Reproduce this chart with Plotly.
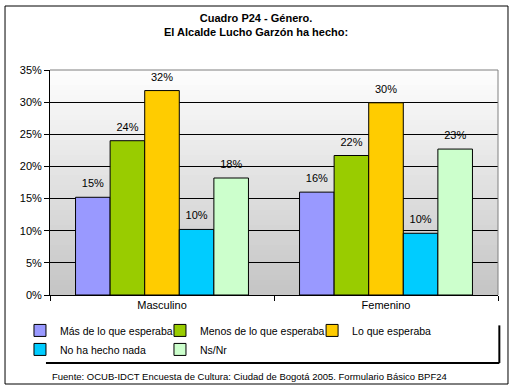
import plotly.graph_objects as go

categories = ["Masculino", "Femenino"]
series_names = ["Más de lo que esperaba", "Menos de lo que esperaba", "Lo que esperaba",
                "No ha hecho nada", "Ns/Nr"]
mas_de_lo_que_esperaba = [0.152, 0.160]
menos_de_lo_que_esperaba = [0.240, 0.217]
lo_que_esperaba = [0.318, 0.299]
no_ha_hecho_nada = [0.102, 0.096]
ns_nr = [0.182, 0.227]
series_values = [mas_de_lo_que_esperaba, menos_de_lo_que_esperaba, lo_que_esperaba,
                 no_ha_hecho_nada, ns_nr]
colors = ["#9999FF", "#99CC00", "#FFCC00", "#00CCFF", "#CCFFCC"]
legend_ids = ["legend", "legend2", "legend3", "legend", "legend2"]

FONT = "Liberation Sans, Arial, sans-serif"

fig = go.Figure()
for name, vals, col, lg in zip(series_names, series_values, colors, legend_ids):
    fig.add_trace(go.Bar(
        x=categories, y=vals, name=name, legend=lg,
        marker=dict(color=col, line=dict(color="black", width=1)),
        hoverinfo="skip",
    ))
for name, vals in zip(series_names, series_values):
    fig.add_trace(go.Scatter(
        x=categories, y=vals, mode="markers+text", showlegend=False,
        marker=dict(size=10, opacity=0),
        text=[f"{v*100:.0f}%" for v in vals], textposition="top center",
        textfont=dict(family=FONT, size=11, color="black"),
        hoverinfo="skip", cliponaxis=False,
    ))

# gradient background bands
shapes = []
n = 45
for i in range(n):
    t = i / n
    g = int(round(196 + (254 - 196) * (i + 0.5) / n))
    shapes.append(dict(type="rect", xref="paper", yref="paper",
                       x0=0, x1=1, y0=t, y1=(i + 1) / n + 0.002,
                       fillcolor=f"rgb({g},{g},{g})", line=dict(width=0), layer="below"))
# plot top/right gray border
shapes.append(dict(type="line", xref="paper", yref="paper", x0=0, x1=1, y0=1, y1=1,
                   line=dict(color="#808080", width=1), layer="above"))
shapes.append(dict(type="line", xref="paper", yref="paper", x0=1, x1=1, y0=0, y1=1,
                   line=dict(color="#808080", width=1), layer="above"))
# legend shadow
shapes.append(dict(type="line", xref="paper", yref="paper", x0=-0.009, x1=1.003,
                   y0=-0.302, y1=-0.302, line=dict(color="black", width=2), layer="above"))
shapes.append(dict(type="line", xref="paper", yref="paper", x0=1.003, x1=1.003,
                   y0=-0.135, y1=-0.302, line=dict(color="black", width=2), layer="above"))
# outer border
shapes.append(dict(type="rect", xref="paper", yref="paper", x0=-0.1004, x1=1.0223,
                   y0=-0.3956, y1=1.2844, line=dict(color="black", width=1), layer="above"))

legend_common = dict(orientation="v", yanchor="top", y=-0.093, xanchor="left",
                     bgcolor="rgba(0,0,0,0)", font=dict(family=FONT, size=10.5),
                     tracegroupgap=0)

fig.update_layout(
    width=515, height=391,
    margin=dict(l=50, r=17, t=70, b=96, autoexpand=False),
    paper_bgcolor="white", plot_bgcolor="white",
    barmode="group", bargap=0.228, bargroupgap=0,
    scattermode="group",
    font=dict(family=FONT, size=11, color="black"),
    xaxis=dict(showline=True, linecolor="black", linewidth=1, ticks="outside",
               ticklen=5, tickcolor="black", tickson="boundaries", showgrid=False,
               tickfont=dict(size=11), automargin=False),
    yaxis=dict(range=[0, 0.35], dtick=0.05, tickformat=".0%", showline=True,
               linecolor="black", linewidth=1, ticks="outside", ticklen=5,
               tickcolor="black", showgrid=True, gridcolor="black", gridwidth=1,
               zeroline=False, tickfont=dict(size=11), automargin=False),
    legend=dict(x=-0.067, **legend_common),
    legend2=dict(x=0.2455, **legend_common),
    legend3=dict(x=0.585, **legend_common),
    shapes=shapes,
    annotations=[
        dict(text="<b>Cuadro P24 - Género.</b><br><b>El Alcalde Lucho Garzón ha hecho:</b>",
             xref="paper", yref="paper", x=0.4609, y=1.2667, xanchor="center",
             yanchor="top", showarrow=False, align="center",
             font=dict(family=FONT, size=11, color="black")),
        dict(text="Fuente: OCUB-IDCT Encuesta de Cultura: Ciudad de Bogotá 2005. Formulario Básico BPF24",
             xref="paper", yref="paper", x=0.0, y=-0.36, xanchor="left",
             yanchor="middle", showarrow=False,
             font=dict(family=FONT, size=9.5, color="black")),
    ],
    showlegend=True,
)
fig.write_html("out.html", config={"displayModeBar": False},
               post_script="document.body.style.margin='0';document.body.style.padding='0';")
